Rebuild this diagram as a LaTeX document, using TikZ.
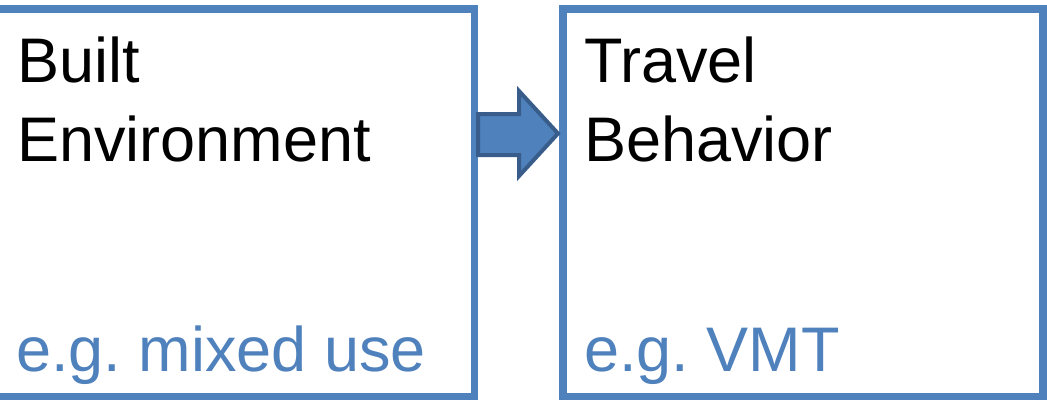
\documentclass[tikz,border=0pt]{standalone}
\usepackage{fontspec}
\setmainfont{Liberation Sans}
\frenchspacing
\definecolor{boxblue}{HTML}{4F81BD}
\definecolor{arrowedge}{HTML}{385D8A}
\tikzset{
  panel/.style={draw=boxblue, line width=7.5pt, fill=none, inner sep=0pt, outer sep=0pt, minimum width=#1},
  headline/.style={anchor=base west, inner sep=0pt, text=black, font=\fontsize{63}{78}\selectfont},
  example/.style={anchor=base west, inner sep=0pt, text=boxblue, font=\fontsize{63}{78}\selectfont},
  flow/.style={draw=arrowedge, fill=boxblue, line width=4pt, line join=miter}
}
\begin{document}
\begin{tikzpicture}[x=1pt, y=-1pt]
  \useasboundingbox (0,0) rectangle (1047,400);
  \clip (0,0) rectangle (1047,400);
  \fill[white] (0,0) rectangle (1047,400);

  % the two panels
  \node[panel=494.5pt, minimum height=387.5pt] (env) at (227.25,202.75) {};
  \node[panel=480pt, minimum height=387.5pt] (travel) at (803,202.75) {};

  % block arrow linking the panels
  \coordinate (tail) at ([xshift=3.5pt]env.east |- 0,133.5);
  \coordinate (tip) at ([xshift=-5pt]travel.west |- 0,133.5);
  \draw[flow] (tail) ++(0,-19.5) -- ++(41,0) -- ++(0,-23) -- (tip)
    -- ++(-39,42.5) -- ++(0,-21) -- ++(-41,0) -- cycle;

  % panel texts
  \node[headline] (envA) at (17,82) {Built};
  \node[headline] (envB) at (17,161) {Environment};
  \node[example] (envEx) at (16,371) {e.g.\ mixed use};

  \node[headline] (travA) at (584,82) {Travel};
  \node[headline] (travB) at (584,161) {Behavior};
  \node[example] (travEx) at (584,371) {e.g.\ VMT};
\end{tikzpicture}
\end{document}
